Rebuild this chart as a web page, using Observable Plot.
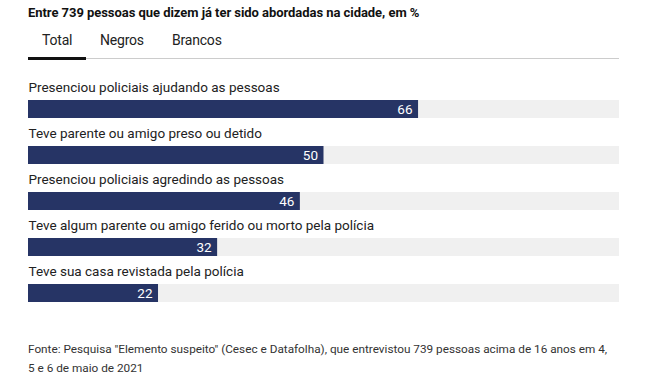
<!DOCTYPE html>
<html>
<head>
<meta charset="utf-8">
<script src="https://cdn.jsdelivr.net/npm/d3@7"></script>
<script src="https://cdn.jsdelivr.net/npm/@observablehq/plot@0.6"></script>
<style>
  html, body { margin: 0; padding: 0; background: #fff; }
  body { width: 647px; height: 385px; position: relative; overflow: hidden;
         font-family: Roboto, sans-serif; color: #222; }
  #title { position: absolute; left: 28px; top: 5px; font-size: 13px; font-weight: bold; color: #111; white-space: nowrap; letter-spacing: -0.05px; }
  #tabs { position: absolute; left: 28px; top: 32px; width: 591px; height: 26px; border-bottom: 1px solid #ccc; }
  .tab { position: absolute; top: 0; font-size: 14px; color: #222; letter-spacing: -0.2px; }
  #underline { position: absolute; left: 0; width: 58px; top: 25px; height: 3px; background: #111; }
  #chart { position: absolute; left: 0; top: 70px; }
  #foot { position: absolute; left: 28px; top: 340px; width: 591px; font-size: 12px; line-height: 19px; color: #333; }
  #measure { position: absolute; visibility: hidden; white-space: nowrap; font-size: 12px; }
</style>
</head>
<body>
<div id="title"></div>
<div id="tabs"><div id="underline"></div></div>
<div id="chart"></div>
<div id="foot"></div>
<span id="measure"></span>
<script>
const title = "Entre 739 pessoas que dizem já ter sido abordadas na cidade, em %";
const tabLabels = ["Total", "Negros", "Brancos"];
const categories = [
  "Presenciou policiais ajudando as pessoas",
  "Teve parente ou amigo preso ou detido",
  "Presenciou policiais agredindo as pessoas",
  "Teve algum parente ou amigo ferido ou morto pela polícia",
  "Teve sua casa revistada pela polícia"
];
const values = [66, 50, 46, 32, 22];
const footnote = 'Fonte: Pesquisa "Elemento suspeito" (Cesec e Datafolha), que entrevistou 739 pessoas acima de 16 anos em 4, 5 e 6 de maio de 2021';

document.getElementById("title").textContent = title;
const tabX = [14, 72, 144];
const tabs = document.getElementById("tabs");
tabLabels.forEach((t, i) => {
  const d = document.createElement("div");
  d.className = "tab"; d.style.left = tabX[i] + "px"; d.textContent = t;
  tabs.appendChild(d);
});

// footnote: first line in the reference breaks after "em 4," (about 580px wide)
const foot = document.getElementById("foot");
foot.textContent = footnote;
const meas = document.getElementById("measure");
const firstLine = footnote.slice(0, footnote.indexOf("4,") + 2);
meas.textContent = firstLine;
const w = meas.getBoundingClientRect().width;
const fs = Math.max(11, Math.min(13, 12 * 580 / w));
foot.style.fontSize = fs + "px";
meas.style.fontSize = fs + "px";
foot.style.width = (meas.getBoundingClientRect().width + 3) + "px";

const data = categories.map((c, i) => ({ category: c, value: values[i], full: 100 }));
const rowH = 46.6;
const chart = Plot.plot({
  width: 647,
  height: rowH * categories.length,
  marginLeft: 28, marginRight: 28, marginTop: 0, marginBottom: 0,
  style: { fontFamily: 'Roboto, sans-serif', background: "transparent" },
  x: { domain: [0, 100], axis: null },
  y: { domain: categories, axis: null, padding: 0 },
  marks: [
    Plot.barX(data, { y: "category", x: "full", fill: "#f0f0f0", insetTop: 28 }),
    Plot.barX(data, { y: "category", x: "value", fill: "#263465", insetTop: 28 }),
    Plot.text(data, { y: "category", x: 0, text: "category", textAnchor: "start", dy: -7.5, fontSize: 13.5, fill: "#222", style: { letterSpacing: "-0.2px" } }),
    Plot.text(data, { y: "category", x: "value", text: d => String(d.value), textAnchor: "end", dx: -6, dy: 14, fontSize: 13.5, fill: "#fff" })
  ]
});
document.getElementById("chart").appendChild(chart);
</script>
</body>
</html>
